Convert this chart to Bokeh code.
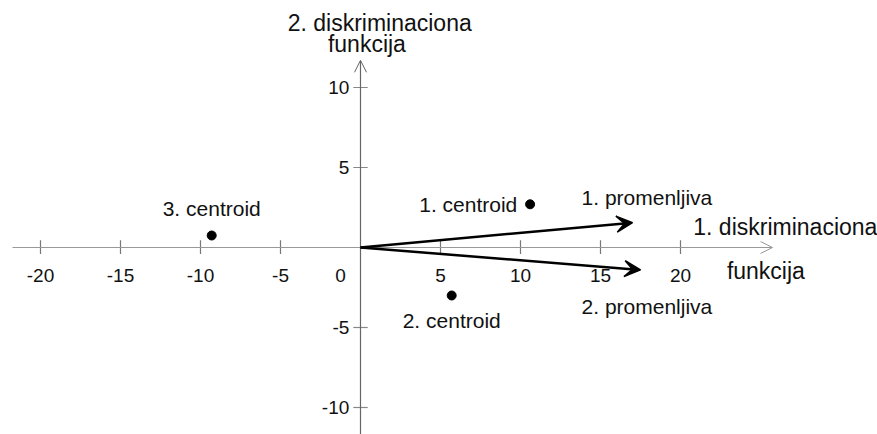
from bokeh.plotting import figure
from bokeh.models import Arrow, VeeHead, OpenHead, Range1d
from bokeh.core.properties import value
from bokeh.embed import file_html
from bokeh.resources import INLINE

# Discriminant function space: centroids of three groups and two variable vectors
centroid_names = ["1. centroid", "2. centroid", "3. centroid"]
centroid_x = [10.6, 5.7, -9.3]
centroid_y = [2.7, -3.0, 0.75]

variable_names = ["1. promenljiva", "2. promenljiva"]
variable_x = [17.0, 17.5]
variable_y = [1.55, -1.4]

x_ticks = [-20, -15, -10, -5, 5, 10, 15, 20]
y_ticks = [-10, -5, 5, 10]

FONT = value("Liberation Sans")
INK = "#111111"

p = figure(width=877, height=434, output_backend="svg", toolbar_location=None,
           x_range=Range1d(-22.5, 32.3125), y_range=Range1d(-11.6875, 15.4375),
           min_border=0, border_fill_color="white", outline_line_color=None)
p.axis.visible = False
p.grid.visible = False

# coordinate axes drawn through the origin
p.add_layout(Arrow(end=OpenHead(size=12, line_color="#999999", line_width=1),
                   x_start=-21.75, y_start=0, x_end=25.75, y_end=0,
                   line_color="#999999", line_width=1.2))
p.add_layout(Arrow(end=OpenHead(size=12, line_color="#666666", line_width=1),
                   x_start=0, y_start=-12.0, x_end=0, y_end=11.7,
                   line_color="#666666", line_width=1.2))

# tick marks crossing the axes
p.segment(x0=x_ticks, y0=[-0.4] * len(x_ticks), x1=x_ticks, y1=[0.45] * len(x_ticks),
          line_color="#777777", line_width=1.2)
p.segment(x0=[-0.45] * len(y_ticks), y0=y_ticks, x1=[0.45] * len(y_ticks), y1=y_ticks,
          line_color="#888888", line_width=1.2)

# tick labels
p.text(x=x_ticks, y=[-1.75] * len(x_ticks), text=[str(v) for v in x_ticks],
       text_font=FONT, text_font_size="19px", text_color=INK,
       text_align="center", text_baseline="middle")
p.text(x=[-1.25], y=[-1.75], text=["0"], text_font=FONT, text_font_size="19px",
       text_color=INK, text_align="center", text_baseline="middle")
p.text(x=[-0.7] * len(y_ticks), y=y_ticks, text=[str(v) for v in y_ticks],
       text_font=FONT, text_font_size="19px", text_color=INK,
       text_align="right", text_baseline="middle")

# axis titles
p.text(x=[20.8, 22.9], y=[1.3, -1.45], text=["1. diskriminaciona", "funkcija"],
       text_font=FONT, text_font_size="23px", text_color=INK,
       text_align="left", text_baseline="middle")
p.text(x=[1.2, 0.4], y=[14.05, 12.75], text=["2. diskriminaciona", "funkcija"],
       text_font=FONT, text_font_size="23px", text_color=INK,
       text_align="center", text_baseline="middle")

# variable vectors
for vx, vy in zip(variable_x, variable_y):
    p.add_layout(Arrow(end=VeeHead(size=16, fill_color="black", line_color="black",
                                   line_width=1.5),
                       x_start=0, y_start=0, x_end=vx, y_end=vy,
                       line_color="black", line_width=2.5))
p.text(x=[17.9, 17.9], y=[3.1, -3.7], text=variable_names,
       text_font=FONT, text_font_size="21px", text_color=INK,
       text_align="center", text_baseline="middle")

# centroids
p.scatter(x=centroid_x, y=centroid_y, size=9, color="black")
p.text(x=[9.8], y=[centroid_y[0]], text=[centroid_names[0]],
       text_font=FONT, text_font_size="21px", text_color=INK,
       text_align="right", text_baseline="middle")
p.text(x=[centroid_x[1], centroid_x[2]], y=[-4.56, 2.44],
       text=[centroid_names[1], centroid_names[2]],
       text_font=FONT, text_font_size="21px", text_color=INK,
       text_align="center", text_baseline="middle")

open("out.html", "w").write(file_html(p, INLINE))
